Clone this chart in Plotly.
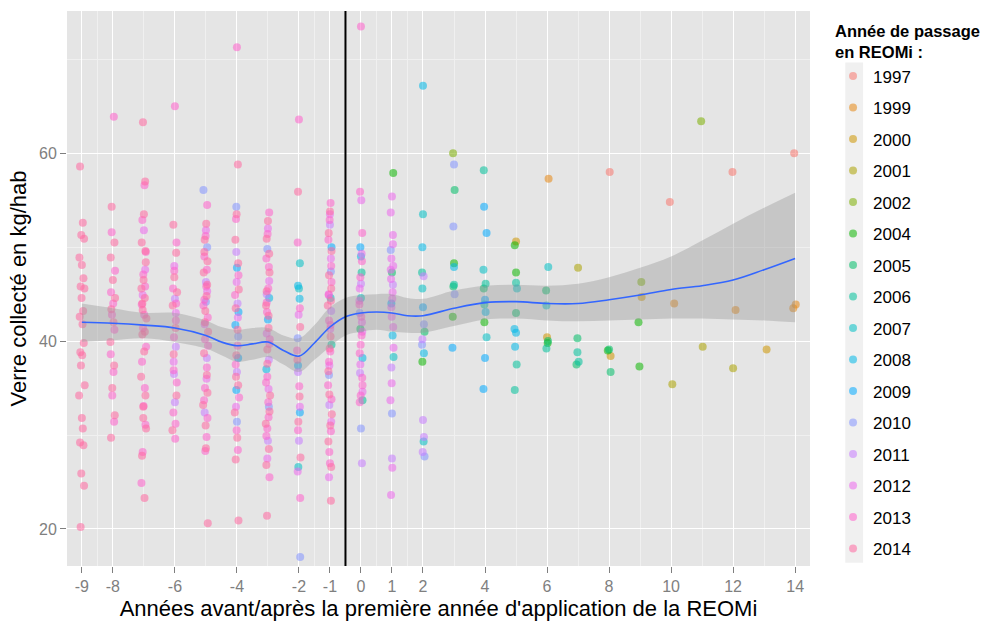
import plotly.graph_objects as go

# ---------------- data ----------------
years = ["1997", "1999", "2000", "2001", "2002", "2004", "2005", "2006",
         "2007", "2008", "2009", "2010", "2011", "2012", "2013", "2014"]
colors = ["#F8766D", "#E68613", "#CD9600", "#ABA300", "#7CAE00", "#0CB702",
          "#00BE67", "#00C19A", "#00BFC4", "#00B8E7", "#00A9FF", "#8494FF",
          "#C77CFF", "#ED68ED", "#FF61CC", "#FF68A1"]

x_1997 = [8.02, 9.96, 11.98, 13.97]
y_1997 = [58.0, 54.8, 58.0, 60.0]

x_1999 = [6.05, 10.1, 12.08, 13.94, 14.02]
y_1999 = [57.3, 44.0, 43.3, 43.5, 43.9]

x_2000 = [5.0, 6.0, 8.05, 9.05, 13.08]
y_2000 = [50.6, 40.4, 38.4, 44.7, 39.1]

x_2001 = [7.0, 10.04, 11.02, 12.0]
y_2001 = [47.8, 35.4, 39.4, 37.1]

x_2002 = [2.97, 9.04, 10.97]
y_2002 = [60.0, 46.3, 63.4]

x_2004 = [1.04, 1.98, 3.0, 2.96, 3.98, 4.96, 5.0, 6.02, 7.96, 8.95, 8.98]
y_2004 = [57.9, 37.8, 48.3, 42.6, 42.0, 50.2, 47.3, 39.8, 39.0, 42.0, 37.3]

x_2005 = [-0.02, 1.0, 2.05, 3.02, 2.98, 3.96, 5.0, 5.97, 6.03, 6.98, 6.95, 8.0, 8.05]
y_2005 = [41.3, 47.3, 41.0, 56.1, 45.8, 45.6, 43.0, 45.4, 40.0, 40.3, 37.5, 39.1, 36.7]

x_2006 = [-0.95, 0.02, 0.05, 1.97, 3.0, 3.96, 4.02, 3.98, 5.0, 5.02, 4.96, 5.98, 6.98, 7.02]
y_2006 = [39.6, 47.3, 33.7, 47.3, 46.0, 58.2, 46.1, 43.9, 46.2, 37.5, 34.8, 39.2, 38.8, 37.8]

x_2007 = [-1.97, -2.0, -2.02, -0.98, 0.0, 1.05, 2.0, 1.98, 2.02, 3.95, 4.05, 5.03, 6.04, 5.98]
y_2007 = [48.3, 45.6, 26.6, 44.6, 44.6, 38.3, 53.5, 45.6, 29.3, 47.6, 40.4, 45.6, 47.9, 43.8]

x_2008 = [-3.05, -2.96, -2.03, -1.98, 0.0, 0.05, 1.02, 2.0, 1.98, 2.03, 3.0, 4.02, 4.95, 5.0, 4.97]
y_2008 = [37.0, 44.6, 45.9, 44.5, 49.0, 38.2, 40.6, 67.2, 50.0, 38.7, 47.9, 43.1, 41.3, 40.9, 39.4]

x_2009 = [-4.0, -3.95, -4.05, -3.96, -4.02, -3.0, -2.03, -1.97, -0.95, -0.02, 0.98,
          2.0, 2.95, 3.97, 4.05, 4.0, 4.0, 3.95]
y_2009 = [47.8, 43.1, 41.7, 38.2, 34.8, 42.3, 37.4, 32.4, 50.0, 50.0, 44.0,
          43.6, 39.3, 54.3, 51.5, 44.4, 38.2, 34.9]

x_2010 = [-5.08, -4.96, -5.0, -4.02, -3.96, -4.0, -3.02, -2.97, -2.04, -1.96, -0.97,
          -1.03, 0.0, -0.04, 0.96, 1.0, 2.03, 1.97, 2.05, 3.0, 2.98, 3.02]
y_2010 = [56.1, 50.0, 44.2, 54.3, 40.5, 31.4, 49.8, 33.0, 40.3, 17.0, 47.4,
          36.4, 30.7, 43.0, 49.7, 32.3, 41.8, 39.6, 27.7, 58.8, 52.2, 45.0]

x_2011 = [-6.0, -5.97, -6.03, -6.0, -5.0, -4.97, -5.04, -4.02, -3.98, -4.0, -3.04,
          -2.97, -3.0, -2.0, -2.03, -1.0, -0.96, -1.02, 0.03, 0.0, -0.03, 1.03, 0.98,
          1.0, 2.02, 1.98, 2.0, 2.03, 1.99]
y_2011 = [44.5, 39.4, 36.5, 33.5, 46.3, 38.2, 32.4, 49.5, 44.0, 36.7, 45.0,
          38.0, 29.4, 29.4, 36.7, 52.4, 43.2, 33.2, 27.0, 46.1, 36.6, 46.0, 37.2,
          27.5, 46.9, 40.2, 31.6, 29.8, 28.2]

x_2012 = [-7.0, -6.96, -7.04,
          -6.02, -5.97, -6.04,
          -5.0, -4.96, -5.04, -4.98,
          -4.01, -3.97, -4.03,
          -3.0, -2.96, -3.04, -2.98, -3.02,
          -2.01, -1.97, -2.04,
          -1.0, -0.97, -1.04, -0.99, -1.02, -0.96, -1.03,
          0.01, -0.04, 0.03, -0.02, 0.05, 0.02, -0.05, 0.04,
          1.0, 0.96, 1.03, 0.98, 1.04, 0.97, 1.02, 0.99, 1.05, 0.95, 1.01, 0.97,
          1.03, 0.96, 1.01, 0.98, 1.04, 0.99]
y_2012 = [51.8, 47.6, 44.9,
          48.0, 43.0, 37.8,
          51.8, 45.3, 41.8, 36.0,
          46.3, 42.5, 33.0,
          52.0, 46.4, 40.8, 34.9, 27.5,
          42.8, 33.0, 26.1,
          53.5, 48.8, 45.0, 41.3, 37.4, 31.4, 25.5,
          55.0, 45.6, 42.0, 37.5, 34.6, 49.3, 44.3, 41.0,
          55.4, 53.7, 51.3, 48.8, 48.0, 46.6, 45.2, 42.6, 39.3, 33.7, 26.5, 23.6,
          50.3, 47.6, 44.5, 43.6, 41.5, 35.5]

x_2013 = [-7.97, -8.04, -7.93, -8.06, -7.99, -8.03, -7.95, -8.07, -7.98, -8.02, -7.96,
          -6.98, -7.05, -6.94, -7.02, -6.96, -7.07, -6.99, -7.03, -6.93, -7.06, -6.97,
          -7.01, -6.95, -7.04, -7.08,
          -6.0, -5.95, -6.06, -5.97, -6.03, -5.94, -6.05, -5.99, -6.02, -5.96, -6.04, -5.98,
          -4.96, -5.05, -4.99, -5.08, -4.94, -5.03, -4.97, -5.06, -4.95, -5.02,
          -5.01, -4.97, -5.05, -4.93, -5.03, -4.98,
          -4.0, -4.03, -3.95, -4.06, -3.98, -4.04, -3.93, -4.01, -3.97,
          -2.96, -3.05, -2.99, -3.03, -2.94, -3.06, -2.98, -3.02, -2.95,
          -3.01, -2.97, -3.04, -2.95, -3.02, -2.99, -3.05,
          -2.0, -2.04, -1.97, -2.06, -1.99, -2.03, -1.96,
          -0.98, -1.05, -0.95, -1.03, -0.99, -1.06, -0.97, -1.02,
          -1.01, -0.96, -1.04, -0.98, -1.03, -0.95, -1.0,
          0.0, -0.03, 0.04, -0.05, 0.02, -0.01, 0.05, -0.04,
          0.03, -0.02, 0.01, -0.04, 0.04, -0.01]
y_2013 = [63.9, 51.6, 47.5, 45.2, 44.0, 42.8, 41.2, 38.6, 36.7, 34.2, 31.4,
          56.6, 52.9, 49.5, 47.1, 45.8, 43.9, 42.8, 41.4, 39.4, 37.8, 35.0,
          33.1, 31.1, 28.2, 24.9,
          65.0, 50.5, 45.6, 42.2, 40.4, 35.6, 32.4, 29.6, 47.5, 44.0, 36.9, 31.2,
          54.5, 49.0, 45.8, 43.8, 42.5, 40.2, 37.2, 33.7, 31.8, 28.3,
          51.2, 47.6, 44.4, 39.5, 35.0, 29.8,
          71.3, 53.0, 47.0, 44.9, 39.5, 37.5, 34.0, 30.5, 28.4,
          53.7, 48.8, 45.6, 43.1, 40.2, 35.6, 31.9, 30.7, 25.5,
          51.4, 47.9, 44.1, 39.7, 36.2, 33.5, 29.9,
          63.6, 50.5, 43.5, 39.0, 35.2, 30.5, 23.3,
          54.7, 50.8, 46.3, 42.2, 38.9, 35.3, 30.4, 28.2,
          52.9, 48.0, 44.9, 41.7, 37.8, 33.8, 27.0,
          73.5, 55.9, 51.5, 43.9, 40.6, 39.6, 35.3, 33.5,
          48.5, 46.8, 42.6, 38.7, 36.1, 34.2]

x_2014 = [-9.06, -8.97, -9.02, -8.93, -9.08, -9.0, -8.95, -9.04, -8.92, -9.01, -8.96,
          -9.07, -8.98, -8.94, -9.05, -8.99, -9.03, -8.91, -9.09, -9.0, -8.97, -9.06,
          -8.95, -9.02, -8.93, -9.04,
          -8.04, -7.95, -8.07, -8.0, -7.93, -8.05, -7.98, -8.08, -7.96, -8.02, -7.94, -8.06,
          -7.03, -6.96, -7.07, -6.94, -7.01, -7.08, -6.97, -7.04, -6.92, -7.05, -6.99,
          -7.09, -6.95, -7.02, -6.93, -7.06, -6.98,
          -7.0, -6.95, -7.05, -6.97, -7.02,
          -6.05, -5.96, -6.02, -5.93, -6.07, -5.98, -6.04, -5.95, -6.08,
          -5.04, -4.95, -5.07, -4.98, -5.02, -4.93, -5.06, -4.97, -5.09, -5.0, -4.94,
          -4.99, -5.05, -4.96, -5.03, -4.95, -5.01,
          -3.97, -4.05, -3.94, -4.02, -3.96, -4.07, -3.99, -4.04, -3.95,
          -4.01, -3.96, -4.04, -3.98, -4.03,
          -3.04, -2.95, -3.06, -2.98, -3.02, -2.93, -3.07, -2.97, -3.03,
          -3.0, -2.96, -3.04, -2.98, -3.02, -2.95, -3.05,
          -2.03, -1.96, -2.05, -1.98, -2.02, -1.95,
          -1.04, -0.96, -1.07, -0.98, -1.02, -0.94, -1.05, -0.97,
          -1.0, -0.95, -1.03, -0.97, -1.01, -1.05, -0.99, -0.96]
y_2014 = [58.6, 52.6, 51.3, 50.9, 48.9, 48.1, 46.7, 45.8, 45.6, 44.6, 43.2,
          42.6, 41.8, 39.8, 38.8, 38.5, 37.4, 35.3, 34.2, 31.8, 30.7, 29.2,
          28.9, 25.9, 24.6, 20.2,
          54.3, 50.5, 48.9, 46.5, 44.6, 43.4, 42.0, 39.9, 37.4, 35.0, 32.1, 29.7,
          63.3, 57.0, 50.5, 48.4, 46.5, 45.6, 44.6, 43.3, 42.4, 40.7, 38.9,
          36.2, 34.2, 31.8, 30.7, 27.8, 23.3,
          53.5, 49.6, 44.0, 41.0, 33.0,
          52.4, 49.4, 46.8, 45.2, 43.8, 41.4, 38.6, 34.2, 30.5,
          50.8, 48.5, 47.3, 44.8, 43.2, 41.0, 38.7, 36.4, 33.2, 28.6, 20.6,
          52.5, 49.5, 46.0, 42.0, 34.5, 31.0,
          58.8, 50.8, 45.5, 38.5, 35.3, 32.4, 29.7, 27.4, 20.9,
          53.5, 48.3, 43.5, 41.2, 36.2,
          50.9, 47.3, 43.8, 41.4, 39.1, 34.2, 31.2, 28.5, 21.4,
          52.8, 49.3, 45.3, 42.7, 37.6, 32.5, 26.8,
          55.9, 41.5, 38.0, 34.1, 31.4, 27.6,
          51.5, 45.6, 43.8, 40.5, 34.3, 32.2, 29.3, 23.0,
          53.8, 49.6, 47.0, 44.3, 39.2, 36.8, 31.0, 26.6]

# loess smooth with confidence band
x_smooth = [-9, -8, -7, -6, -5, -4.5, -4, -3.5, -3, -2.5, -2, -1.5, -1, -0.5, 0, 0.5,
            1, 1.5, 2, 3, 4, 5, 6, 7, 8, 9, 10, 11, 12, 13, 14]
y_smooth = [42.0, 41.9, 41.7, 41.4, 40.6, 39.9, 39.5, 39.7, 39.9, 39.0, 38.4, 39.8,
            41.5, 42.6, 43.0, 43.1, 43.0, 42.7, 42.7, 43.5, 44.1, 44.2, 44.0, 44.0,
            44.4, 44.9, 45.5, 45.9, 46.5, 47.6, 48.8]
y_low = [39.9, 40.1, 40.3, 39.9, 39.2, 38.5, 37.8, 38.0, 38.3, 37.5, 36.7, 38.0,
         39.4, 40.6, 41.0, 41.2, 41.0, 40.9, 40.9, 41.6, 42.3, 42.4, 42.2, 42.1,
         42.2, 42.3, 42.4, 42.4, 42.3, 42.2, 42.0]
y_high = [44.0, 43.5, 43.0, 43.0, 42.2, 41.5, 41.2, 41.4, 41.4, 40.6, 40.3, 41.7,
          43.6, 44.6, 44.9, 45.0, 45.0, 44.6, 44.5, 45.4, 45.9, 46.0, 45.9, 46.1,
          46.8, 47.8, 49.0, 50.7, 52.5, 54.2, 55.8]

x_ticks = [-9, -8, -6, -4, -2, -1, 0, 1, 2, 4, 6, 8, 10, 12, 14]
x_minor = [-8.5, -7, -5, -3, -1.5, -0.5, 0.5, 1.5, 3, 5, 7, 9, 11, 13]
y_ticks = [20, 40, 60]
y_minor = [30, 50, 70]
first_year_line = -0.5

groups = {
    "1997": (x_1997, y_1997), "1999": (x_1999, y_1999), "2000": (x_2000, y_2000),
    "2001": (x_2001, y_2001), "2002": (x_2002, y_2002), "2004": (x_2004, y_2004),
    "2005": (x_2005, y_2005), "2006": (x_2006, y_2006), "2007": (x_2007, y_2007),
    "2008": (x_2008, y_2008), "2009": (x_2009, y_2009), "2010": (x_2010, y_2010),
    "2011": (x_2011, y_2011), "2012": (x_2012, y_2012), "2013": (x_2013, y_2013),
    "2014": (x_2014, y_2014),
}

# ---------------- figure ----------------
FONT = "Liberation Sans, Arial, Helvetica, sans-serif"
fig = go.Figure()

for yr, col in zip(years, colors):
    xs, ys = groups[yr]
    fig.add_trace(go.Scatter(
        x=xs, y=ys, mode="markers", name=yr, legendgroup=yr,
        marker=dict(color=col, size=8, opacity=0.55, line=dict(width=0)),
        hoverinfo="x+y+name"))

# confidence ribbon
fig.add_trace(go.Scatter(x=x_smooth, y=y_low, mode="lines", line=dict(width=0, shape="spline"),
                         showlegend=False, hoverinfo="skip"))
fig.add_trace(go.Scatter(x=x_smooth, y=y_high, mode="lines", line=dict(width=0, shape="spline"),
                         fill="tonexty", fillcolor="rgba(153,153,153,0.4)",
                         showlegend=False, hoverinfo="skip"))
fig.add_trace(go.Scatter(x=x_smooth, y=y_smooth, mode="lines",
                         line=dict(color="#3366FF", width=1.6, shape="spline"),
                         showlegend=False, hoverinfo="skip"))

fig.add_shape(type="line", xref="x", yref="paper", x0=first_year_line, x1=first_year_line,
              y0=0, y1=1, line=dict(color="black", width=2))
# light grey legend key column
fig.add_shape(type="rect", xref="paper", yref="paper", x0=1.0475, x1=1.0715,
              y0=0.006, y1=0.907, line=dict(width=0), fillcolor="#F0F0F0", layer="below")

fig.update_layout(
    width=994, height=630,
    margin=dict(l=67, r=184, t=11, b=64, autoexpand=False),
    paper_bgcolor="white", plot_bgcolor="#E5E5E5",
    font=dict(family=FONT, color="black"),
    showlegend=True,
    legend=dict(
        title=dict(text="<b>Année de passage<br>en REOMi :</b>", font=dict(size=16.5)),
        font=dict(size=17), x=1.031, xanchor="left", y=0.992, yanchor="top",
        tracegroupgap=6.4, bgcolor="rgba(0,0,0,0)", itemsizing="trace",
        maxheight=620),
    xaxis=dict(
        range=[-9.48, 14.48], tickvals=x_ticks, ticktext=[str(v) for v in x_ticks],
        showgrid=True, gridcolor="white", gridwidth=1.2, zeroline=False,
        ticks="outside", ticklen=6, tickcolor="#7F7F7F", tickwidth=1,
        tickfont=dict(size=16, color="#7F7F7F"),
        minor=dict(tickvals=x_minor, showgrid=True, gridcolor="#F0F0F0", gridwidth=0.6, ticks=""),
        title=dict(text="Années avant/après la première année d'application de la REOMi",
                   font=dict(size=22), standoff=6),
        showline=False),
    yaxis=dict(
        range=[16.05, 75.15], tickvals=y_ticks, ticktext=[str(v) for v in y_ticks],
        showgrid=True, gridcolor="white", gridwidth=1.2, zeroline=False,
        ticks="outside", ticklen=6, tickcolor="#7F7F7F", tickwidth=1,
        tickfont=dict(size=16, color="#7F7F7F"),
        minor=dict(tickvals=y_minor, showgrid=True, gridcolor="#F0F0F0", gridwidth=0.6, ticks=""),
        title=dict(text="Verre collecté en kg/hab", font=dict(size=22), standoff=6),
        showline=False),
)

fig.write_html("out.html")
